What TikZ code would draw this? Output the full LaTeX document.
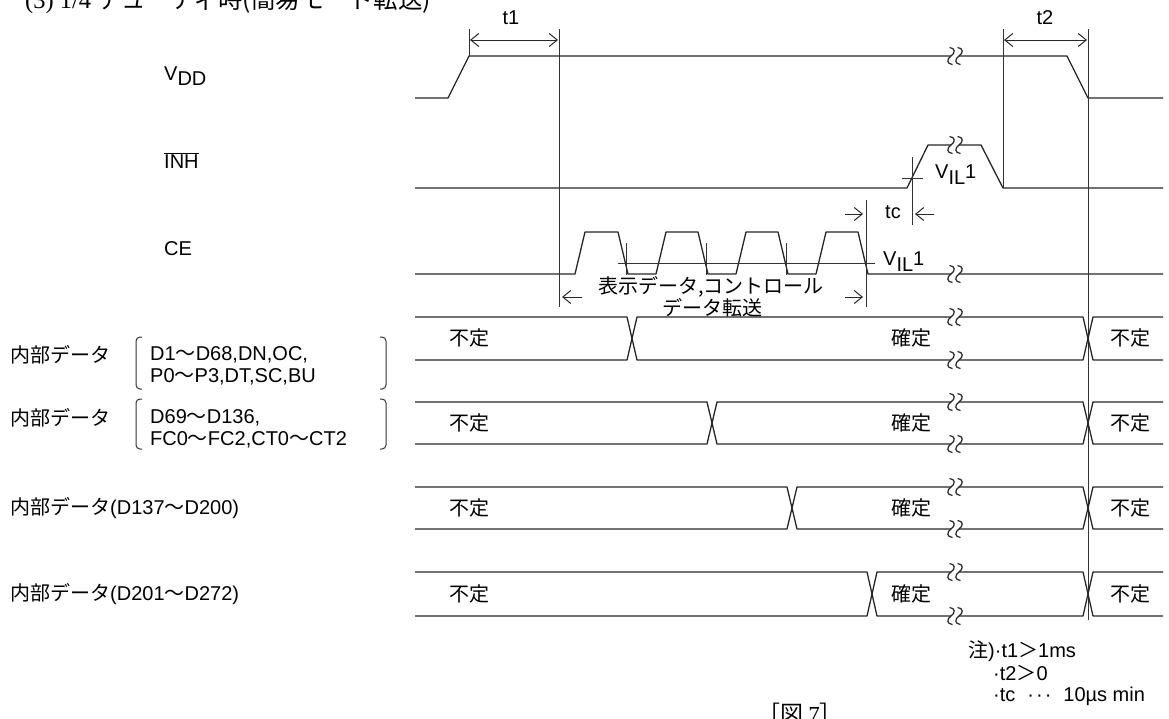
\documentclass[tikz,border=0pt]{standalone}
\usepackage{fontspec}
\setmainfont{Liberation Sans}
\newfontfamily\jp{Noto Sans CJK JP}
\newfontfamily\serifl{Liberation Serif}
\usetikzlibrary{arrows.meta}
\newcommand\wavyS[2]{%
  \draw[brk] (#1-1.5,#2-8.5) .. controls (#1+4.5,#2-8) and (#1+4.5,#2-3) .. (#1,#2)
     .. controls (#1-4.5,#2+3) and (#1-4.5,#2+8) .. (#1+1.5,#2+8.5);}
\newcommand\brkmark[2]{%
  \fill[white] (#1-4,#2-2) rectangle (#1+4,#2+2);
  \wavyS{#1-4}{#2}\wavyS{#1+4}{#2}}
\newcommand\busrow[3]{% top, bottom, transition x
  \draw[sig] (415,#1) -- (#3-5,#1) -- (#3+5,#2) -- (1083,#2) -- (1093,#1) -- (1163,#1);
  \draw[sig] (415,#2) -- (#3-5,#2) -- (#3+5,#1) -- (1083,#1) -- (1093,#2) -- (1163,#2);
  \brkmark{955}{#1}\brkmark{955}{#2}}
\begin{document}
\begin{tikzpicture}[x=1pt,y=-1pt,
  sig/.style={line width=1.3pt,line join=round,black!85},
  brk/.style={line width=1.2pt,black!85},
  vl/.style={line width=1pt,black!80},
  barb/.tip={Straight Barb[length=8pt,width=13pt]},
  dim/.style={line width=1pt,black!85,barb-barb},
  onearr/.style={line width=1pt,black!85,-barb},
  lt/.style={inner sep=0pt,font=\fontsize{20}{23}\selectfont},
  jt/.style={inner sep=0pt,font=\jp\fontsize{20}{23}\selectfont}]
\useasboundingbox (0,0) rectangle (1169,718);

% title (cut off at top) and figure caption (cut at bottom)
\node[anchor=base west,inner sep=0pt,font=\fontsize{24.5}{26}\selectfont] (title) at (25,8)
  {\serifl(3) 1/4 {\jp デューティ時(簡易モード転送)}};
\node[anchor=base,inner sep=0pt,font=\fontsize{23}{26}\selectfont] (fig) at (800,722)
  {\jp［図 \serifl 7\jp ］};

% signal names
\node[lt,anchor=base west] (vdd) at (164,80) {V\raisebox{-5pt}{DD}};
\node[lt,anchor=base west] (inh) at (164,168) {$\overline{\mbox{INH}}$};
\node[lt,anchor=base west] (ce) at (164,255) {CE};

% VDD
\draw[sig] (415,98) -- (448,98) -- (469,56) -- (1067,56) -- (1088,98) -- (1163,98);
% INH
\draw[sig] (415,188) -- (907,188) -- (928,145) -- (981,145) -- (1003,188) -- (1163,188);
% CE
\draw[sig] (415,274) -- (575,274) -- (585,232) -- (618,232) -- (628,274) -- (656,274)
  -- (666,232) -- (698,232) -- (708,274) -- (736,274) -- (746,232) -- (778,232)
  -- (788,274) -- (816,274) -- (826,232) -- (858,232) -- (868,274) -- (1163,274);

% timing reference lines
\coordinate (a1) at (469,29); \coordinate (a2) at (469,56);
\coordinate (b1) at (559,29); \coordinate (b2) at (559,307);
\coordinate (c1) at (1003,29); \coordinate (c2) at (1003,188);
\coordinate (d1) at (1088,29); \coordinate (d2) at (1088,620);
\draw[vl] (a1) -- (a2);
\draw[vl] (b1) -- (b2);
\draw[vl] (c1) -- (c2);
\draw[vl] (d1) -- (d2);
\draw[dim] (470,40) -- (558,40);
\draw[dim] (1004,40) -- (1087,40);
\node[lt] (t1) at (511,18) {t1};
\node[lt] (t2) at (1045,18) {t2};

% INH VIL1 marker and tc
\draw[vl] (912,157) -- (912,225);
\draw[vl] (902,178) -- (923,178);
\node[lt,anchor=base west] (vil1) at (935,178) {V\raisebox{-6pt}{IL}1};
\draw[vl] (866,200) -- (866,307);
\draw[onearr] (845,214) -- (863,214);
\draw[onearr] (934,214) -- (915,214);
\node[lt] (tc) at (893,212) {tc};

% CE VIL1 line and ticks
\draw[vl] (618,263) -- (875,263);
\foreach \x in {626,706,786} \draw[vl] (\x,243) -- (\x,275);
\node[lt,anchor=base west] (vil2) at (883,265) {V\raisebox{-6pt}{IL}1};
\draw[onearr] (582,297) -- (562,297);
\draw[onearr] (845,297) -- (863,297);
\node[jt] (xfer1) at (711,287) {表示データ,コントロール};
\node[jt] (xfer2) at (712,308) {データ転送};

% data rows
\busrow{317}{360}{632}
\busrow{402}{444}{712}
\busrow{487}{529}{792}
\busrow{572}{616}{872}
\brkmark{955}{56}
\brkmark{955}{145}
\brkmark{955}{274}

\foreach \y/\n in {338/1,423/2,508/3,594/4}{
  \node[jt] (fu\n) at (469,\y) {不定};
  \node[jt] (ka\n) at (911,\y) {確定};
  \node[jt] (fr\n) at (1130,\y) {不定};
}

% row labels
\node[jt,anchor=west] (r1) at (10,355) {内部データ};
\node[lt,anchor=west] (r1a) at (150,355) {D1{\jp ～}D68,DN,OC,};
\node[lt,anchor=west] (r1b) at (150,377) {P0{\jp ～}P3,DT,SC,BU};
\draw[vl,rounded corners=4pt] (142,337) -- (136,337) -- (136,389) -- (142,389);
\draw[vl,rounded corners=4pt] (380,337) -- (386,337) -- (386,389) -- (380,389);

\node[jt,anchor=west] (r2) at (10,418) {内部データ};
\node[lt,anchor=west] (r2a) at (150,418) {D69{\jp ～}D136,};
\node[lt,anchor=west] (r2b) at (150,440) {FC0{\jp ～}FC2,CT0{\jp ～}CT2};
\draw[vl,rounded corners=4pt] (142,399) -- (136,399) -- (136,449) -- (142,449);
\draw[vl,rounded corners=4pt] (380,399) -- (386,399) -- (386,449) -- (380,449);

\node[lt,anchor=west] (r3) at (10,508) {{\jp 内部データ}(D137{\jp ～}D200)};
\node[lt,anchor=west] (r4) at (10,594) {{\jp 内部データ}(D201{\jp ～}D272)};

% notes
\node[lt,anchor=west] (n1) at (968,651) {{\jp 注})·t1{\jp ＞}1ms};
\node[lt,anchor=west] (n2) at (993,673) {·t2{\jp ＞}0};
\node[lt,anchor=west] (n3) at (993,696) {·tc\hspace{12pt}·\hspace{2pt}·\hspace{2pt}·\hspace{12pt}10µs min};
\end{tikzpicture}
\end{document}
